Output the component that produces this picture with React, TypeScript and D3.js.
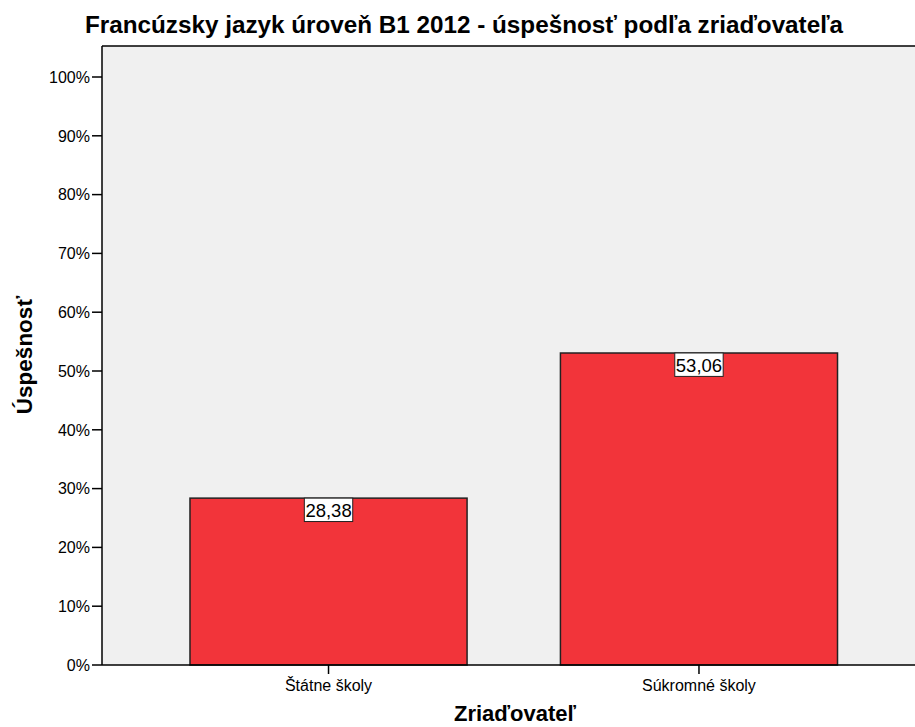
import React from "react";
import * as d3 from "d3";

const categories = ["Štátne školy", "Súkromné školy"];
const values = [28.38, 53.06];
const yTicks = [0, 10, 20, 30, 40, 50, 60, 70, 80, 90, 100];

const W = 915;
const H = 727;
const left = 102;
const bottom = 665;
const topTick = 77;
const plotTop = 46;
const right = 925.5;

export default function App() {
  const x = d3.scaleBand<string>().domain(categories).range([left, right]).paddingInner(0.252).paddingOuter(0.2375);
  const y = d3.scaleLinear().domain([0, 100]).range([bottom, topTick]);
  const fmt = (v: number) => v.toFixed(2).replace(".", ",");
  const font = "'Liberation Sans', Arial, sans-serif";
  return (
    <svg width={W} height={H} style={{ position: "absolute", left: 0, top: 0, background: "#fff" }} fontFamily={font}>
      <rect x={left} y={plotTop} width={W - left} height={bottom - plotTop} fill="#f0f0f0" />
      <line x1={left} x2={W} y1={plotTop} y2={plotTop} stroke="#000" strokeWidth={1.5} />
      {categories.map((c, i) => {
        const bx = x(c)!;
        const by = y(values[i]);
        const cx = bx + x.bandwidth() / 2;
        return (
          <g key={c}>
            <rect x={bx} y={by} width={x.bandwidth()} height={bottom - by} fill="#f2343a" stroke="#222" strokeWidth={1.5} />
            <rect x={cx - 24.2} y={by} width={48.4} height={23.4} fill="#fff" stroke="#222" strokeWidth={1} />
            <text x={cx} y={by + 18.5} textAnchor="middle" fontSize={18.5} fill="#000">{fmt(values[i])}</text>
            <line x1={cx} x2={cx} y1={bottom} y2={bottom + 9} stroke="#000" strokeWidth={1.5} />
            <text x={cx} y={bottom + 26} textAnchor="middle" fontSize={16} fill="#000">{c}</text>
          </g>
        );
      })}
      <line x1={left} x2={left} y1={plotTop} y2={bottom} stroke="#000" strokeWidth={1.5} />
      <line x1={left} x2={W} y1={bottom} y2={bottom} stroke="#000" strokeWidth={1.5} />
      {yTicks.map((t) => (
        <g key={t}>
          <line x1={left - 10} x2={left} y1={y(t)} y2={y(t)} stroke="#000" strokeWidth={1.5} />
          <text x={left - 12} y={y(t) + 5.8} textAnchor="end" fontSize={16} fill="#000">{t}%</text>
        </g>
      ))}
      <text x={464} y={33} textAnchor="middle" fontSize={23.5} fontWeight="bold" textLength={758} lengthAdjust="spacingAndGlyphs" fill="#000">
        Francúzsky jazyk úroveň B1 2012 - úspešnosť podľa zriaďovateľa
      </text>
      <text x={515} y={721} textAnchor="middle" fontSize={22} fontWeight="bold" fill="#000">Zriaďovateľ</text>
      <text transform="translate(32,355) rotate(-90)" textAnchor="middle" fontSize={22.5} fontWeight="bold" fill="#000">Úspešnosť</text>
    </svg>
  );
}
